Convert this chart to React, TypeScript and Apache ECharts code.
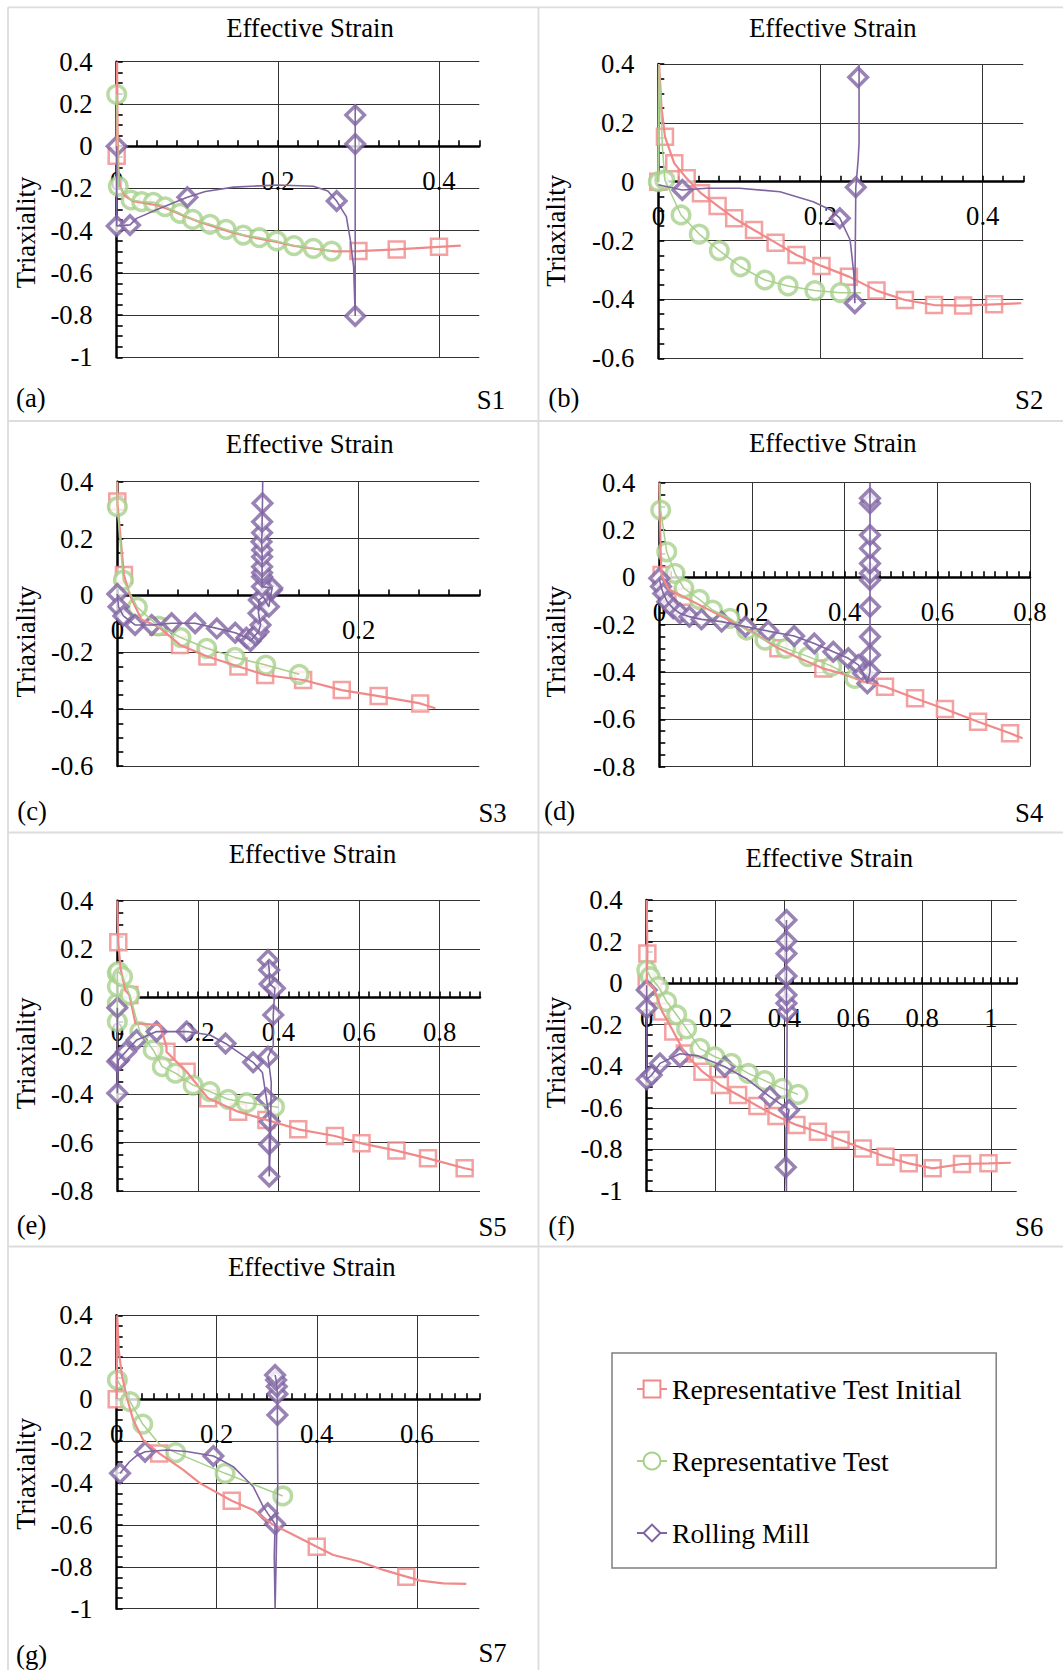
import React, { useEffect, useRef } from 'react';
import * as echarts from 'echarts';

// ---------- texts ----------
const SERIES_NAMES = ['Representative Test Initial', 'Representative Test', 'Rolling Mill'];
const PANEL_IDS = ['(a)', '(b)', '(c)', '(d)', '(e)', '(f)', '(g)'];
const PANEL_TAGS = ['S1', 'S2', 'S3', 'S4', 'S5', 'S6', 'S7'];
const X_TITLE = 'Effective Strain';
const Y_TITLE = 'Triaxiality';

// ---------- axis ranges (tick labels follow from these) ----------
const X_MAX = [0.45, 0.45, 0.3, 0.8, 0.9, 1.075, 0.725];
const Y_MIN = [-1, -0.6, -0.6, -0.8, -0.8, -1, -1];
const Y_MAX = [0.4, 0.4, 0.4, 0.4, 0.4, 0.4, 0.4];
const MAJOR_STEP = 0.2;

type P = [number, number][];

// ---------- (a) S1 ----------
const A_INIT_LINE: P = [[0, -0.045], [0.0005, 0.4], [0.001, 0.1], [0.002, -0.1], [0.004, -0.19], [0.01, -0.235], [0.02, -0.26], [0.035, -0.27], [0.05, -0.28], [0.065, -0.3], [0.08, -0.325], [0.1, -0.355], [0.12, -0.38], [0.14, -0.405], [0.16, -0.425], [0.18, -0.44], [0.2, -0.455], [0.22, -0.472], [0.245, -0.486], [0.27, -0.498], [0.3, -0.497], [0.3475, -0.489], [0.4, -0.477], [0.427, -0.471]];
const A_INIT_MARK: P = [[0, -0.045], [0.3, -0.497], [0.3475, -0.489], [0.4, -0.477]];
const A_TEST_LINE: P = [[0, 0.245], [0.002, -0.19], [0.0178, -0.255], [0.031, -0.263], [0.0455, -0.266], [0.06, -0.287], [0.0786, -0.318], [0.0943, -0.347], [0.1158, -0.37], [0.1357, -0.394], [0.157, -0.421], [0.177, -0.433], [0.1986, -0.449], [0.22, -0.471], [0.244, -0.484], [0.2668, -0.497]];
const A_TEST_MARK: P = [[0, 0.245], [0.002, -0.19], [0.0178, -0.255], [0.031, -0.263], [0.0455, -0.266], [0.06, -0.287], [0.0786, -0.318], [0.0943, -0.347], [0.1158, -0.37], [0.1357, -0.394], [0.157, -0.421], [0.177, -0.433], [0.1986, -0.449], [0.22, -0.471], [0.244, -0.484], [0.2668, -0.497]];
const A_MILL_LINE: P = [[0, 0], [0, -0.378], [0.0165, -0.373], [0.0248, -0.342], [0.05, -0.3], [0.0877, -0.242], [0.11, -0.215], [0.145, -0.194], [0.2, -0.184], [0.244, -0.19], [0.262, -0.212], [0.273, -0.26], [0.285, -0.334], [0.29, -0.445], [0.294, -0.57], [0.296, -0.804], [0.296, 0.01], [0.296, 0.147], [0.296, 0.2]];
const A_MILL_MARK: P = [[0, 0], [0, -0.378], [0.0165, -0.373], [0.0877, -0.242], [0.273, -0.26], [0.296, -0.804], [0.296, 0.01], [0.296, 0.147]];

// ---------- (b) S2 ----------
const B_INIT_LINE: P = [[0, 0], [0.001, 0.4], [0.004, 0.25], [0.0082, 0.153], [0.0197, 0.0625], [0.035, 0.0115], [0.0526, -0.039], [0.0731, -0.0824], [0.0936, -0.124], [0.118, -0.164], [0.1446, -0.207], [0.1704, -0.249], [0.2012, -0.286], [0.235, -0.3225], [0.269, -0.37], [0.304, -0.402], [0.34, -0.419], [0.3758, -0.421], [0.414, -0.4165], [0.4476, -0.413]];
const B_INIT_MARK: P = [[0, 0], [0.0082, 0.153], [0.0197, 0.0625], [0.035, 0.0115], [0.0526, -0.039], [0.0731, -0.0824], [0.0936, -0.124], [0.118, -0.164], [0.1446, -0.207], [0.1704, -0.249], [0.2012, -0.286], [0.235, -0.3225], [0.269, -0.37], [0.304, -0.402], [0.34, -0.419], [0.3758, -0.421], [0.414, -0.4165]];
const B_TEST_LINE: P = [[0, 0], [0.001, 0.4], [0.005, 0.12], [0.008, 0.006], [0.028, -0.113], [0.0505, -0.178], [0.0752, -0.234], [0.1014, -0.289], [0.1314, -0.334], [0.16, -0.354], [0.193, -0.37], [0.2246, -0.377], [0.25, -0.377]];
const B_TEST_MARK: P = [[0, 0], [0.008, 0.006], [0.028, -0.113], [0.0505, -0.178], [0.0752, -0.234], [0.1014, -0.289], [0.1314, -0.334], [0.16, -0.354], [0.193, -0.37], [0.2246, -0.377]];
const B_MILL_LINE: P = [[0, -0.01], [0.0296, -0.028], [0.06, -0.022], [0.1, -0.022], [0.15, -0.034], [0.191, -0.068], [0.212, -0.095], [0.2238, -0.124], [0.2365, -0.198], [0.241, -0.311], [0.2423, -0.413], [0.2435, -0.019], [0.2464, 0.074], [0.2475, 0.13], [0.2475, 0.355], [0.2475, 0.4]];
const B_MILL_MARK: P = [[0.0296, -0.028], [0.2238, -0.124], [0.2423, -0.413], [0.2435, -0.019], [0.2464, 0.355]];

// ---------- (c) S3 ----------
const C_INIT_LINE: P = [[0, 0.4], [0, 0.33], [0.0055, 0.072], [0.0105, 0.0], [0.02, -0.085], [0.034, -0.11], [0.052, -0.174], [0.0747, -0.215], [0.1004, -0.25], [0.1225, -0.28], [0.154, -0.2975], [0.186, -0.333], [0.2166, -0.354], [0.251, -0.38], [0.2636, -0.397]];
const C_INIT_MARK: P = [[0, 0.33], [0.0055, 0.072], [0.034, -0.11], [0.052, -0.174], [0.0747, -0.215], [0.1004, -0.25], [0.1225, -0.28], [0.154, -0.2975], [0.186, -0.333], [0.2166, -0.354], [0.251, -0.38]];
const C_TEST_LINE: P = [[0, 0.4], [0, 0.312], [0.005, 0.054], [0.0166, -0.042], [0.034, -0.1076], [0.0528, -0.1487], [0.0741, -0.186], [0.0976, -0.218], [0.1231, -0.245], [0.1508, -0.2776]];
const C_TEST_MARK: P = [[0, 0.312], [0.005, 0.054], [0.0166, -0.042], [0.034, -0.1076], [0.0528, -0.1487], [0.0741, -0.186], [0.0976, -0.218], [0.1231, -0.245], [0.1508, -0.2776]];
const C_MILL_LINE: P = [[0, 0.005], [0.001, -0.04], [0.005, -0.072], [0.0147, -0.104], [0.0285, -0.104], [0.045, -0.098], [0.0645, -0.098], [0.0825, -0.116], [0.0977, -0.131], [0.107, -0.149], [0.1104, -0.16], [0.1145, -0.139], [0.117, -0.128], [0.1187, -0.104], [0.117, -0.063], [0.1173, -0.016], [0.121, -0.005], [0.1256, -0.04], [0.128, 0.019], [0.1284, 0.026], [0.12, 0.031], [0.12, 0.066], [0.12, 0.08], [0.12, 0.101], [0.12, 0.136], [0.12, 0.16], [0.1195, 0.189], [0.12, 0.22], [0.12, 0.259], [0.1203, 0.324], [0.1205, 0.4]];
const C_MILL_MARK: P = [[0, 0.005], [0.001, -0.04], [0.005, -0.072], [0.0147, -0.104], [0.0285, -0.104], [0.045, -0.098], [0.0645, -0.098], [0.0825, -0.116], [0.0977, -0.131], [0.107, -0.149], [0.1104, -0.16], [0.1145, -0.139], [0.117, -0.128], [0.1187, -0.104], [0.117, -0.063], [0.1173, -0.016], [0.121, -0.005], [0.1256, -0.04], [0.128, 0.019], [0.1284, 0.026], [0.12, 0.031], [0.12, 0.066], [0.12, 0.08], [0.12, 0.101], [0.12, 0.136], [0.12, 0.16], [0.1195, 0.189], [0.12, 0.22], [0.12, 0.259], [0.1203, 0.324]];

// ---------- (d) S4 ----------
const D_INIT_LINE: P = [[0, 0.4], [0.003, 0.1], [0.005, 0.01], [0.02, -0.05], [0.052, -0.082], [0.1, -0.13], [0.15, -0.18], [0.2, -0.23], [0.257, -0.3], [0.3, -0.34], [0.354, -0.385], [0.4, -0.41], [0.44, -0.44], [0.487, -0.462], [0.552, -0.511], [0.6165, -0.556], [0.688, -0.61], [0.757, -0.659], [0.784, -0.68]];
const D_INIT_MARK: P = [[0.005, 0.01], [0.052, -0.082], [0.257, -0.3], [0.354, -0.385], [0.487, -0.462], [0.552, -0.511], [0.6165, -0.556], [0.688, -0.61], [0.757, -0.659]];
const D_TEST_LINE: P = [[0.001, 0.4], [0.003, 0.2845], [0.016, 0.108], [0.034, 0.017], [0.053, -0.046], [0.0863, -0.093], [0.115, -0.138], [0.1525, -0.173], [0.1885, -0.2225], [0.228, -0.265], [0.273, -0.3], [0.3216, -0.335], [0.372, -0.375], [0.422, -0.427]];
const D_TEST_MARK: P = [[0.003, 0.2845], [0.016, 0.108], [0.034, 0.017], [0.053, -0.046], [0.0863, -0.093], [0.115, -0.138], [0.1525, -0.173], [0.1885, -0.2225], [0.228, -0.265], [0.273, -0.3], [0.3216, -0.335], [0.372, -0.375], [0.422, -0.427]];
const D_MILL_LINE: P = [[0, -0.004], [0.0036, -0.039], [0.0086, -0.068], [0.017, -0.103], [0.03, -0.131], [0.0446, -0.152], [0.065, -0.166], [0.091, -0.1775], [0.1345, -0.187], [0.186, -0.208], [0.235, -0.227], [0.291, -0.248], [0.3345, -0.279], [0.3755, -0.314], [0.408, -0.342], [0.4295, -0.37], [0.44, -0.406], [0.449, -0.448], [0.4547, -0.399], [0.4547, -0.328], [0.4547, -0.251], [0.4547, -0.124], [0.4547, -0.011], [0.4547, 0.017], [0.4547, 0.059], [0.4547, 0.1225], [0.4547, 0.179], [0.4547, 0.313], [0.4547, 0.334], [0.4547, 0.4]];
const D_MILL_MARK: P = [[0, -0.004], [0.0036, -0.039], [0.0086, -0.068], [0.017, -0.103], [0.03, -0.131], [0.0446, -0.152], [0.065, -0.166], [0.091, -0.1775], [0.1345, -0.187], [0.186, -0.208], [0.235, -0.227], [0.291, -0.248], [0.3345, -0.279], [0.3755, -0.314], [0.408, -0.342], [0.4295, -0.37], [0.44, -0.406], [0.449, -0.448], [0.4547, -0.399], [0.4547, -0.328], [0.4547, -0.251], [0.4547, -0.124], [0.4547, -0.011], [0.4547, 0.017], [0.4547, 0.059], [0.4547, 0.1225], [0.4547, 0.179], [0.4547, 0.313], [0.4547, 0.334]];

// ---------- (e) S5 ----------
const E_INIT_LINE: P = [[0, 0.4], [0.0025, 0.228], [0.008, 0.12], [0.02, 0.03], [0.03, 0.01], [0.045, -0.107], [0.106, -0.114], [0.122, -0.203], [0.122, -0.224], [0.172, -0.307], [0.2256, -0.417], [0.3, -0.472], [0.37, -0.506], [0.449, -0.545], [0.54, -0.5725], [0.606, -0.603], [0.6926, -0.633], [0.771, -0.665], [0.862, -0.706], [0.8826, -0.713]];
const E_INIT_MARK: P = [[0.0025, 0.228], [0.03, 0.01], [0.122, -0.224], [0.172, -0.307], [0.2256, -0.417], [0.3, -0.472], [0.37, -0.506], [0.449, -0.545], [0.54, -0.5725], [0.606, -0.603], [0.6926, -0.633], [0.771, -0.665], [0.862, -0.706]];
const E_TEST_LINE: P = [[0, -0.1], [0, -0.024], [0, 0.045], [0, 0.1], [0.0025, 0.107], [0.013, 0.086], [0.031, 0.01], [0.056, -0.141], [0.089, -0.217], [0.1116, -0.286], [0.1446, -0.313], [0.188, -0.362], [0.2298, -0.389], [0.275, -0.421], [0.3207, -0.435], [0.39, -0.452], [0.399, -0.454]];
const E_TEST_MARK: P = [[0, -0.1], [0, -0.024], [0, 0.045], [0, 0.1], [0.0025, 0.107], [0.013, 0.086], [0.031, 0.01], [0.056, -0.141], [0.089, -0.217], [0.1116, -0.286], [0.1446, -0.313], [0.188, -0.362], [0.2298, -0.389], [0.275, -0.421], [0.3207, -0.435], [0.39, -0.452]];
const E_MILL_LINE: P = [[0, -0.042], [0, -0.265], [0, -0.396], [0.0025, -0.258], [0.0215, -0.224], [0.048, -0.176], [0.0975, -0.141], [0.172, -0.141], [0.23, -0.155], [0.2686, -0.19], [0.337, -0.268], [0.36, -0.31], [0.37, -0.417], [0.378, -0.513], [0.377, -0.607], [0.377, -0.74], [0.38, -0.6], [0.382, -0.35], [0.374, -0.245], [0.387, -0.2], [0.387, -0.072], [0.391, 0.038], [0.378, 0.056], [0.377, 0.114], [0.374, 0.155]];
const E_MILL_MARK: P = [[0, -0.042], [0, -0.265], [0.004, -0.258], [0, -0.396], [0.0215, -0.224], [0.048, -0.176], [0.0975, -0.141], [0.172, -0.141], [0.2686, -0.19], [0.337, -0.268], [0.374, -0.245], [0.37, -0.417], [0.378, -0.513], [0.377, -0.607], [0.377, -0.74], [0.374, 0.155], [0.377, 0.114], [0.378, 0.056], [0.391, 0.038], [0.387, -0.072]];

// ---------- (f) S6 ----------
const F_INIT_LINE: P = [[0, 0.4], [0.002, 0.143], [0, 0], [0.019, -0.017], [0.045, -0.137], [0.0773, -0.233], [0.111, -0.338], [0.162, -0.426], [0.2126, -0.49], [0.2657, -0.538], [0.3217, -0.591], [0.377, -0.639], [0.435, -0.682], [0.4976, -0.715], [0.5633, -0.755], [0.628, -0.795], [0.6937, -0.835], [0.7614, -0.867], [0.831, -0.891], [0.916, -0.87], [0.993, -0.867], [1.058, -0.864]];
const F_INIT_MARK: P = [[0.002, 0.143], [0, 0], [0.019, -0.017], [0.045, -0.137], [0.0773, -0.233], [0.111, -0.338], [0.162, -0.426], [0.2126, -0.49], [0.2657, -0.538], [0.3217, -0.591], [0.377, -0.639], [0.435, -0.682], [0.4976, -0.715], [0.5633, -0.755], [0.628, -0.795], [0.6937, -0.835], [0.7614, -0.867], [0.831, -0.891], [0.916, -0.87], [0.993, -0.867]];
const F_TEST_LINE: P = [[0, 0.063], [0.01, 0.031], [0.034, -0.017], [0.058, -0.089], [0.087, -0.153], [0.116, -0.22], [0.1546, -0.314], [0.198, -0.354], [0.246, -0.386], [0.295, -0.434], [0.343, -0.469], [0.394, -0.506], [0.4396, -0.535]];
const F_TEST_MARK: P = [[0, 0.063], [0.01, 0.031], [0.034, -0.017], [0.058, -0.089], [0.087, -0.153], [0.116, -0.22], [0.1546, -0.314], [0.198, -0.354], [0.246, -0.386], [0.295, -0.434], [0.343, -0.469], [0.394, -0.506], [0.4396, -0.535]];
const F_MILL_LINE: P = [[0, -0.01], [0, -0.033], [0, -0.121], [0, -0.463], [0.0145, -0.442], [0.0386, -0.386], [0.0966, -0.34], [0.15, -0.35], [0.227, -0.402], [0.29, -0.46], [0.3575, -0.546], [0.4135, -0.61], [0.405, -0.7], [0.404, -0.886], [0.406, -1.0], [0.408, -0.137], [0.406, -0.097], [0.406, -0.057], [0.406, 0.034], [0.406, 0.143], [0.406, 0.203], [0.406, 0.304]];
const F_MILL_MARK: P = [[0, -0.033], [0, -0.121], [0, -0.463], [0.0145, -0.442], [0.0386, -0.386], [0.0966, -0.354], [0.227, -0.402], [0.3575, -0.546], [0.4135, -0.61], [0.404, -0.886], [0.408, -0.137], [0.406, -0.097], [0.406, -0.057], [0.406, 0.034], [0.406, 0.143], [0.406, 0.203], [0.406, 0.304]];

// ---------- (g) S7 ----------
const G_INIT_LINE: P = [[0, 0], [0.001, 0.4], [0.004, 0.235], [0.01, 0.12], [0.02, 0.01], [0.033, -0.1], [0.053, -0.195], [0.085, -0.259], [0.133, -0.338], [0.167, -0.402], [0.23, -0.485], [0.273, -0.529], [0.313, -0.6], [0.347, -0.64], [0.4, -0.704], [0.433, -0.744], [0.487, -0.776], [0.533, -0.815], [0.579, -0.847], [0.607, -0.866], [0.653, -0.879], [0.699, -0.882]];
const G_INIT_MARK: P = [[0, 0], [0.085, -0.259], [0.23, -0.485], [0.4, -0.704], [0.579, -0.847]];
const G_TEST_LINE: P = [[0.0013, 0.091], [0.0267, -0.012], [0.052, -0.119], [0.0867, -0.219], [0.118, -0.255], [0.2167, -0.354], [0.332, -0.462]];
const G_TEST_MARK: P = [[0.0013, 0.091], [0.0267, -0.012], [0.052, -0.119], [0.118, -0.255], [0.2167, -0.354], [0.332, -0.462]];
const G_MILL_LINE: P = [[0.0067, -0.354], [0.015, -0.33], [0.025, -0.3], [0.04, -0.27], [0.0567, -0.251], [0.1, -0.243], [0.14, -0.25], [0.1933, -0.271], [0.233, -0.322], [0.273, -0.418], [0.293, -0.513], [0.302, -0.545], [0.3167, -0.596], [0.315, -0.75], [0.3167, -1.0], [0.319, -0.75], [0.322, -0.4], [0.3213, -0.076], [0.3213, 0.025], [0.32, 0.06], [0.3187, 0.091], [0.3167, 0.115]];
const G_MILL_MARK: P = [[0.0067, -0.354], [0.0567, -0.251], [0.1933, -0.271], [0.302, -0.545], [0.3167, -0.596], [0.3213, -0.076], [0.3213, 0.025], [0.32, 0.06], [0.3187, 0.091], [0.3167, 0.115]];

const PANEL_SERIES: [P, P][][] = [
  [[A_INIT_LINE, A_INIT_MARK], [A_TEST_LINE, A_TEST_MARK], [A_MILL_LINE, A_MILL_MARK]],
  [[B_INIT_LINE, B_INIT_MARK], [B_TEST_LINE, B_TEST_MARK], [B_MILL_LINE, B_MILL_MARK]],
  [[C_INIT_LINE, C_INIT_MARK], [C_TEST_LINE, C_TEST_MARK], [C_MILL_LINE, C_MILL_MARK]],
  [[D_INIT_LINE, D_INIT_MARK], [D_TEST_LINE, D_TEST_MARK], [D_MILL_LINE, D_MILL_MARK]],
  [[E_INIT_LINE, E_INIT_MARK], [E_TEST_LINE, E_TEST_MARK], [E_MILL_LINE, E_MILL_MARK]],
  [[F_INIT_LINE, F_INIT_MARK], [F_TEST_LINE, F_TEST_MARK], [F_MILL_LINE, F_MILL_MARK]],
  [[G_INIT_LINE, G_INIT_MARK], [G_TEST_LINE, G_TEST_MARK], [G_MILL_LINE, G_MILL_MARK]],
];

// ---------- layout & style ----------
const FONT = "'Liberation Serif', 'Times New Roman', serif";
const FS = 26.7;
const X_LABEL_GAP = 21; // gap between the zero line and the x tick labels
const GRID_BOX = [
  { l: 116.7, t: 61.7, r: 479.3, b: 357.3 },
  { l: 658.3, t: 64, r: 1023.3, b: 358.3 },
  { l: 117.3, t: 481.7, r: 479.3, b: 766 },
  { l: 659.3, t: 482.7, r: 1030, b: 766.7 },
  { l: 117.3, t: 900.7, r: 480, b: 1191 },
  { l: 646.7, t: 900, r: 1016.7, b: 1191 },
  { l: 116.7, t: 1315.3, r: 479.3, b: 1608.7 },
];
const TITLE_POS = [[310, 27.5], [832.8, 27.8], [309.7, 443.8], [832.8, 442.8], [312.5, 853.8], [829.3, 857.5], [311.8, 1267.2]];
const YTITLE_POS = [[25.5, 232.5], [555.5, 230.8], [25.5, 641.7], [555.5, 641.7], [25.5, 1053.3], [555.5, 1052.5], [25.5, 1473.8]];
const ID_POS = [[16, 398], [548.3, 398], [17.3, 811.3], [544, 811.3], [16.7, 1224.7], [548.3, 1226.3], [16, 1654.7]];
const TAG_POS = [[505, 400], [1043.3, 400], [506.7, 812.5], [1043.3, 812.5], [506.7, 1226.7], [1043.3, 1226.7], [506.7, 1653.3]];
const COLORS = ['#F08A8A', '#A8D18C', '#8064A2'];
const SYMBOLS = ['rect', 'circle', 'diamond'];
const SYMBOL_SIZE = [16, 17.5, 18.5];
const BORDER_W = [2.5, 3.5, 3.5];
const LINE_W = [2.2, 1.5, 1.6];

function buildOption() {
  const grid: any[] = [];
  const xAxis: any[] = [];
  const yAxis: any[] = [];
  const series: any[] = [];
  const elements: any[] = [];

  // table borders
  const borderStyle = { stroke: '#dcdcdc', lineWidth: 1.8 };
  const hLines = [7.3, 421, 832.5, 1246.5];
  hLines.forEach((y) => elements.push({ type: 'line', silent: true, z: -10, shape: { x1: 8, y1: y, x2: 1063, y2: y }, style: borderStyle }));
  [8, 538.5].forEach((x) => elements.push({ type: 'line', silent: true, z: -10, shape: { x1: x, y1: 7.3, x2: x, y2: 1670 }, style: borderStyle }));

  GRID_BOX.forEach((g, i) => {
    const h = g.b - g.t;
    grid.push({ left: g.l, top: g.t, width: g.r - g.l, height: h, containLabel: false, outerBoundsMode: 'none' });
    const xm = X_MAX[i];
    const isMultiple = Math.abs(xm / MAJOR_STEP - Math.round(xm / MAJOR_STEP)) < 1e-6;
    // the tick labels sit under the zero line, which crosses inside the plot
    const zeroFromBottom = h * (0 - Y_MIN[i]) / (Y_MAX[i] - Y_MIN[i]);
    xAxis.push({
      type: 'value', gridIndex: i, min: 0, max: xm, interval: MAJOR_STEP,
      axisLine: { show: true, onZero: true, lineStyle: { color: '#000', width: 2.5 } },
      axisTick: { show: true, inside: true, length: 6, lineStyle: { color: '#000', width: 1.6 } },
      minorTick: { show: true, splitNumber: 8, length: 6, lineStyle: { color: '#000', width: 1.6 } },
      splitLine: { show: true, showMinLine: true, showMaxLine: isMultiple, lineStyle: { color: '#333', width: 1 } },
      minorSplitLine: { show: false },
      axisLabel: { show: true, margin: X_LABEL_GAP - zeroFromBottom, showMaxLabel: isMultiple, fontFamily: FONT, fontSize: FS, color: '#000' },
    });
    yAxis.push({
      type: 'value', gridIndex: i, min: Y_MIN[i], max: Y_MAX[i], interval: MAJOR_STEP,
      axisLine: { show: true, onZero: false, lineStyle: { color: '#000', width: 2.5 } },
      axisTick: { show: true, inside: true, length: 6, lineStyle: { color: '#000', width: 1.6 } },
      minorTick: { show: true, splitNumber: 4, length: 6, lineStyle: { color: '#000', width: 1.6 } },
      splitLine: { show: true, lineStyle: { color: '#333', width: 1 } },
      minorSplitLine: { show: false },
      axisLabel: { show: true, margin: 24, fontFamily: FONT, fontSize: FS, color: '#000' },
    });

    PANEL_SERIES[i].forEach(([line, marks], k) => {
      series.push({
        type: 'line', name: SERIES_NAMES[k], xAxisIndex: i, yAxisIndex: i,
        data: line, symbol: 'empty' + SYMBOLS[k].charAt(0).toUpperCase() + SYMBOLS[k].slice(1),
        showSymbol: false, smooth: false, clip: true,
        lineStyle: { color: COLORS[k], width: LINE_W[k] },
        itemStyle: { color: COLORS[k] },
        emphasis: { disabled: true }, silent: true,
      });
      series.push({
        type: 'scatter', name: SERIES_NAMES[k], xAxisIndex: i, yAxisIndex: i,
        data: marks, symbol: SYMBOLS[k], symbolSize: SYMBOL_SIZE[k], clip: false,
        itemStyle: { color: '#fff', borderColor: COLORS[k], borderWidth: BORDER_W[k] },
        emphasis: { disabled: true }, silent: true,
      });
    });

    const txt = (x: number, y: number, text: string, align: string, extra: any = {}) => ({
      type: 'text', x, y, silent: true, ...extra,
      style: { text, fontFamily: FONT, fontSize: FS, fill: '#000', align, verticalAlign: 'middle' },
    });
    elements.push(txt(TITLE_POS[i][0], TITLE_POS[i][1], X_TITLE, 'center'));
    elements.push(txt(YTITLE_POS[i][0], YTITLE_POS[i][1], Y_TITLE, 'center', { rotation: Math.PI / 2 }));
    elements.push(txt(ID_POS[i][0], ID_POS[i][1], PANEL_IDS[i], 'left'));
    elements.push(txt(TAG_POS[i][0], TAG_POS[i][1], PANEL_TAGS[i], 'right'));
  });

  return {
    animation: false,
    backgroundColor: '#fff',
    grid, xAxis, yAxis, series,
    legend: {
      data: SERIES_NAMES,
      orient: 'vertical',
      left: 612, top: 1353,
      padding: [22, 34, 21, 24],
      itemGap: 44,
      itemWidth: 30, itemHeight: 21,
      borderColor: '#7f7f7f', borderWidth: 1.5,
      selectedMode: false,
      textStyle: { fontFamily: FONT, fontSize: 27.7, color: '#000' },
    },
    graphic: { elements },
  };
}

export default function App() {
  const ref = useRef<HTMLDivElement>(null);
  useEffect(() => {
    if (!ref.current) return;
    const chart = echarts.init(ref.current, undefined, { renderer: 'svg' });
    chart.setOption(buildOption() as any);
    return () => chart.dispose();
  }, []);
  return <div ref={ref} style={{ position: 'absolute', left: 0, top: 0, width: 1063, height: 1670, background: '#fff' }} />;
}
